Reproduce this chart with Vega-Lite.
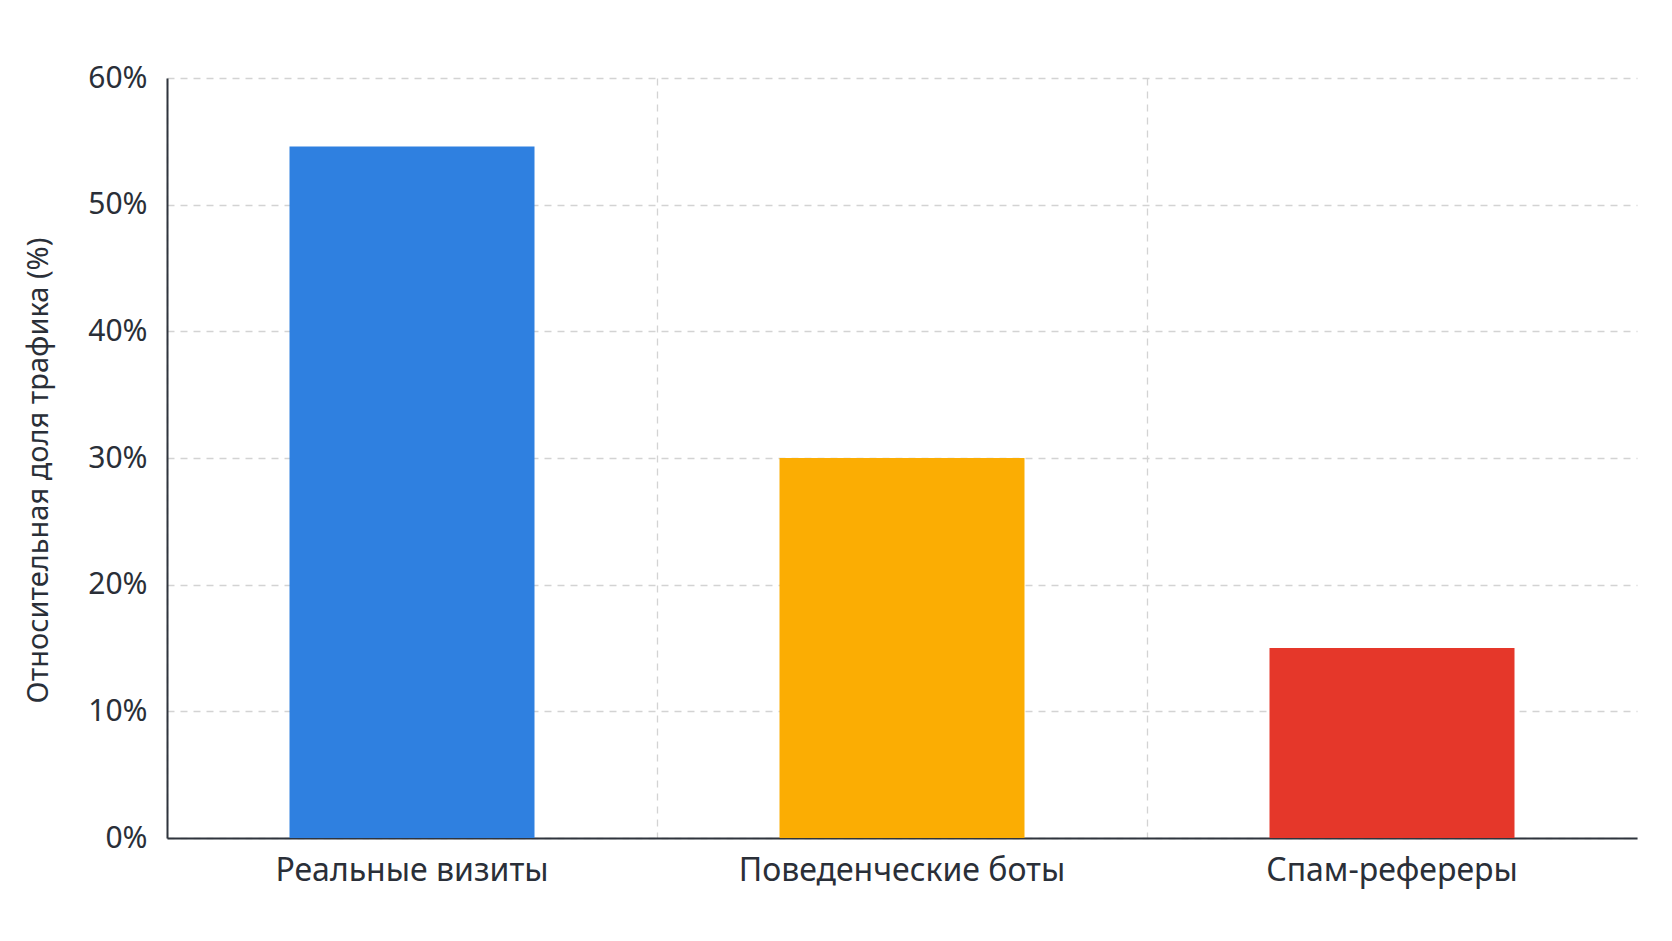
{
  "$schema": "https://vega.github.io/schema/vega-lite/v6.json",
  "description": "Относительная доля трафика по типу источника",
  "autosize": "none",
  "padding": {"left": 167, "top": 78, "right": 35, "bottom": 103},
  "width": 1470,
  "height": 760,
  "background": "#ffffff",
  "data": {
    "values": [
      {"source": "Реальные визиты", "share": 54.6},
      {"source": "Поведенческие боты", "share": 30},
      {"source": "Спам-рефереры", "share": 15}
    ]
  },
  "mark": {"type": "bar", "width": {"band": 0.5}},
  "encoding": {
    "x": {
      "field": "source",
      "type": "nominal",
      "sort": null,
      "title": null,
      "scale": {"paddingInner": 0, "paddingOuter": 0},
      "axis": {
        "labelAngle": 0,
        "bandPosition": 0,
        "ticks": false,
        "grid": true,
        "labelPadding": 17,
        "labelFontSize": 32,
        "labelLimit": 0
      }
    },
    "y": {
      "field": "share",
      "type": "quantitative",
      "title": "Относительная доля трафика (%)",
      "scale": {"domain": [0, 60]},
      "axis": {
        "values": [0, 10, 20, 30, 40, 50, 60],
        "labelExpr": "datum.value + '%'",
        "ticks": false,
        "labelPadding": 20,
        "labelFontSize": 30,
        "titleFontSize": 29,
        "titleX": -129,
        "titleY": 392,
        "titleBaseline": "middle",
        "titleAlign": "center"
      }
    },
    "color": {
      "field": "source",
      "type": "nominal",
      "sort": null,
      "scale": {"range": ["#2f80e0", "#fbad03", "#e5372a"]},
      "legend": null
    }
  },
  "config": {
    "view": {"stroke": null},
    "font": "Noto Sans",
    "axis": {
      "domainColor": "#2f343d",
      "domainWidth": 2,
      "gridColor": "#d3d3d3",
      "gridDash": [7, 6],
      "gridWidth": 1.3,
      "labelColor": "#2a2f38",
      "titleColor": "#2a2f38",
      "labelFont": "Noto Sans",
      "titleFont": "Noto Sans",
      "titleFontWeight": "normal"
    }
  }
}
